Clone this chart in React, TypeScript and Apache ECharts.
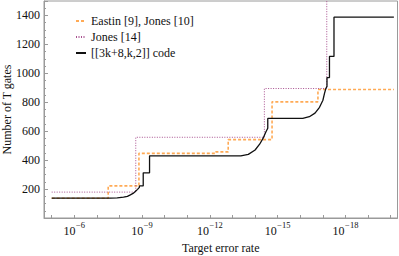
import React, { useEffect, useRef } from "react";
import * as echarts from "echarts";

// x values are the exponent n of the target error rate 10^-n
const seriesNames = ["Eastin [9], Jones [10]", "Jones [14]", "[[3k+8,k,2]] code"];

const eastinX = [5, 7.5, 8.86, 12.26, 12.81, 14.75, 16.78, 20.14];
const eastinY = [137, 222, 447, 457, 542, 803, 888, 888];

const jonesX = [5, 8.72, 14.41, 17.17];
const jonesY = [179, 558, 895, 1700];

const codeX = [
  5, 7.6, 7.9, 8.18, 8.35, 8.48, 8.6, 8.7, 8.8, 8.88, 8.88, 9.05, 9.05, 9.33, 9.33,
  13.37, 13.7, 14.0, 14.2, 14.35, 14.48, 14.56, 14.56,
  16.11, 16.4, 16.65, 16.85, 17.0, 17.07, 17.13, 17.18, 17.18, 17.29, 17.29, 17.49, 17.49, 20.14,
];
const codeY = [
  137, 137, 139, 144, 150, 160, 170, 183, 198, 212, 222, 222, 312, 312, 430,
  430, 440, 470, 510, 550, 596, 620, 688,
  688, 700, 725, 765, 814, 861, 895, 910, 971, 971, 1117, 1117, 1388, 1388,
];

const xTickExps = [5, 6, 7, 8, 9, 10, 11, 12, 13, 14, 15, 16, 17, 18, 19, 20];
const xLabelExps = [6, 9, 12, 15, 18];
const yLabelValues = [200, 400, 600, 800, 1000, 1200, 1400];

const FONT = "Liberation Serif";
const AXIS = "#9a9a9a";

function zip(xs: number[], ys: number[]) {
  return xs.map((x, i) => [x, ys[i]]);
}

export default function App() {
  const ref = useRef<HTMLDivElement>(null);
  useEffect(() => {
    if (!ref.current) return;
    const chart = echarts.init(ref.current, null, { renderer: "svg" });
    chart.setOption({
      animation: false,
      backgroundColor: "#fff",
      grid: {
        left: 44,
        right: 1.5,
        top: 1,
        bottom: 38,
        show: true,
        borderColor: AXIS,
        borderWidth: 1,
        outerBoundsMode: "none",
        containLabel: false,
      },
      legend: {
        orient: "vertical",
        left: 70,
        top: 9,
        itemWidth: 10,
        itemHeight: 8,
        itemGap: 2,
        selectedMode: false,
        data: seriesNames,
        textStyle: { fontFamily: FONT, fontSize: 12, color: "#111", lineHeight: 14 },
      },
      xAxis: {
        type: "value",
        min: 4.66,
        max: 20.3,
        name: "Target error rate",
        nameLocation: "middle",
        nameGap: 24,
        nameMoveOverlap: false,
        nameTextStyle: { fontFamily: FONT, fontSize: 12, color: "#111" },
        axisLine: { show: true, lineStyle: { color: AXIS, width: 1 } },
        axisTick: { show: true, inside: true, length: 3, customValues: xTickExps, lineStyle: { color: AXIS } },
        axisLabel: {
          customValues: xLabelExps,
          margin: 2,
          formatter: (v: number) => `{a|10}{b|\u2212${v}}`,
          rich: {
            a: { fontFamily: FONT, fontSize: 12, color: "#111" },
            b: { fontFamily: FONT, fontSize: 8.5, color: "#111", padding: [0, 0, 12, 0.5] },
          },
        },
        splitLine: { show: false },
      },
      yAxis: {
        type: "value",
        min: 0,
        max: 1500,
        interval: 200,
        name: "Number of T gates",
        nameLocation: "middle",
        nameGap: 31,
        nameMoveOverlap: false,
        nameTextStyle: { fontFamily: FONT, fontSize: 12, color: "#111" },
        axisLine: { show: true, lineStyle: { color: AXIS, width: 1 } },
        axisTick: { show: true, inside: true, length: 4, lineStyle: { color: AXIS } },
        minorTick: { show: true, splitNumber: 4, length: 2, lineStyle: { color: AXIS } },
        axisLabel: {
          customValues: yLabelValues,
          margin: 4,
          fontFamily: FONT,
          fontSize: 12,
          color: "#111",
          formatter: (v: number) => String(v),
        },
        splitLine: { show: false },
      },
      series: [
        {
          name: seriesNames[0],
          type: "line",
          step: "end",
          symbol: "none",
          clip: true,
          data: zip(eastinX, eastinY),
          lineStyle: { color: "#FFAA55", width: 1.6, type: [3, 2] },
          itemStyle: { color: "#FFAA55", opacity: 0 },
        },
        {
          name: seriesNames[1],
          type: "line",
          step: "end",
          symbol: "none",
          clip: true,
          data: zip(jonesX, jonesY),
          lineStyle: { color: "#A8508F", width: 1, type: [1, 1.5] },
          itemStyle: { color: "#A8508F", opacity: 0 },
        },
        {
          name: seriesNames[2],
          type: "line",
          symbol: "none",
          clip: true,
          data: zip(codeX, codeY),
          lineStyle: { color: "#111", width: 1.3 },
          itemStyle: { color: "#111", opacity: 0 },
        },
      ],
    });
    return () => chart.dispose();
  }, []);
  return (
    <div
      ref={ref}
      style={{ position: "fixed", left: 0, top: 0, width: 399, height: 256 }}
    />
  );
}
